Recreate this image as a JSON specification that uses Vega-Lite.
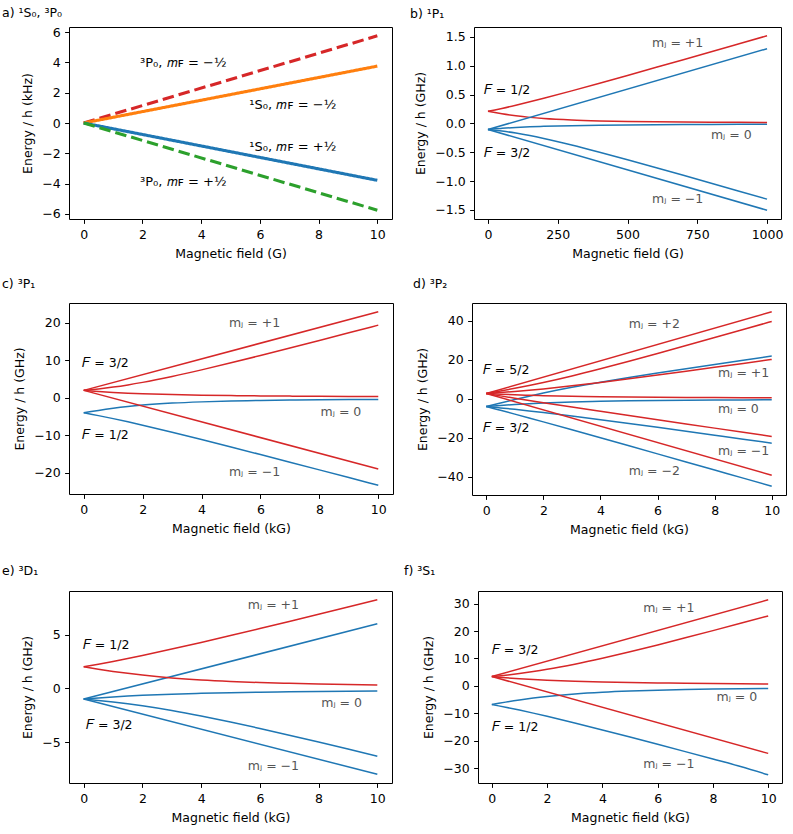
{
"$schema": "https://vega.github.io/schema/vega-lite/v6.json",
"padding": {"left": 1, "top": 6, "right": 0, "bottom": 0},
"background": "white",
"config": {
  "font": "DejaVu Sans",
  "view": {"stroke": "black", "strokeWidth": 1},
  "axis": {"domain": false, "grid": false, "tickColor": "black", "tickSize": 4.4, "tickWidth": 1, "labelColor": "black", "labelFont": "DejaVu Sans", "labelFontSize": 12.5, "labelPadding": 5.4, "titleFont": "DejaVu Sans", "titleFontSize": 12.5, "titleFontWeight": "normal", "titleColor": "black", "titlePadding": 6.5, "labelFlush": false, "labelOverlap": false},
  "axisY": {"titlePadding": 7.5, "labelPadding": 4.4},
  "title": {"font": "DejaVu Sans", "fontSize": 12.5, "fontWeight": "normal", "color": "black", "anchor": "start", "frame": "group"},
  "line": {"strokeWidth": 1.5, "interpolate": "monotone"},
  "text": {"font": "DejaVu Sans", "fontSize": 12.5}
},
"spacing": 27,
"columns": 1,
"align": "none",
"concat": [
 {"spacing": 16, "columns": 1, "align": "none", "concat": [
  {"hconcat": [
   {"width": 323, "height": 192,
    "title": {"text": "a) ¹S₀, ³P₀", "dx": -67, "offset": 7},
    "encoding": {
      "x": {"field": "B", "type": "quantitative", "scale": {"domain": [-0.5, 10.5], "nice": false, "zero": false}, "axis": {"values": [0,2,4,6,8,10], "format": "d", "title": "Magnetic field (G)"}},
      "y": {"field": "E", "type": "quantitative", "scale": {"domain": [-6.33, 6.33], "nice": false, "zero": false}, "axis": {"values": [-6,-4,-2,0,2,4,6], "format": "d", "title": "Energy / h (kHz)"}}
    },
    "layer": [
     {"data": {"values": [
       {"c": "red", "d": "dash", "B": 0, "E": 0}, {"c": "red", "d": "dash", "B": 10, "E": 5.75},
       {"c": "orange", "d": "solid", "B": 0, "E": 0}, {"c": "orange", "d": "solid", "B": 10, "E": 3.75},
       {"c": "blue", "d": "solid", "B": 0, "E": 0}, {"c": "blue", "d": "solid", "B": 10, "E": -3.78},
       {"c": "green", "d": "dash", "B": 0, "E": 0}, {"c": "green", "d": "dash", "B": 10, "E": -5.75}
      ]},
      "mark": {"type": "line", "strokeWidth": 3.1, "interpolate": "linear"},
      "encoding": {
        "color": {"field": "c", "type": "nominal", "scale": {"domain": ["red","orange","blue","green","r","b"], "range": ["#d62728","#ff7f0e","#1f77b4","#2ca02c","#d62728","#1f77b4"]}, "legend": null},
        "strokeDash": {"field": "d", "type": "nominal", "scale": {"domain": ["solid","dash"], "range": [[1,0],[11.5,5]]}, "legend": null}
      }},
     {"data": {"values": [
       {"B": 1.92, "E": 3.94, "t": "³P₀, 𝑚ꜰ = −½"},
       {"B": 5.64, "E": 1.17, "t": "¹S₀, 𝑚ꜰ = −½"},
       {"B": 5.64, "E": -1.57, "t": "¹S₀, 𝑚ꜰ = +½"},
       {"B": 1.92, "E": -3.87, "t": "³P₀, 𝑚ꜰ = +½"}
      ]},
      "mark": {"type": "text", "align": "left", "baseline": "middle", "color": "black", "fontSize": 13},
      "encoding": {"text": {"field": "t"}}}
    ]},
   {"width": 307, "height": 192,
    "title": {"text": "b) ¹P₁", "dx": -64, "offset": 7},
    "encoding": {
      "x": {"field": "B", "type": "quantitative", "scale": {"domain": [-50, 1050], "nice": false, "zero": false}, "axis": {"values": [0,250,500,750,1000], "format": "d", "title": "Magnetic field (G)"}},
      "y": {"field": "E", "type": "quantitative", "scale": {"domain": [-1.656, 1.671], "nice": false, "zero": false}, "axis": {"values": [-1.5,-1,-0.5,0,0.5,1,1.5], "format": ".1f", "title": "Energy / h (GHz)"}}
    },
    "layer": [
     {"data": {"values": [
       {"s":1,"c":"r","B":0,"E":0.21},{"s":1,"c":"r","B":25,"E":0.2342},{"s":1,"c":"r","B":50,"E":0.2599},{"s":1,"c":"r","B":100,"E":0.315},{"s":1,"c":"r","B":150,"E":0.374},{"s":1,"c":"r","B":200,"E":0.4356},{"s":1,"c":"r","B":300,"E":0.5641},{"s":1,"c":"r","B":400,"E":0.6967},{"s":1,"c":"r","B":500,"E":0.8315},{"s":1,"c":"r","B":600,"E":0.9678},{"s":1,"c":"r","B":700,"E":1.105},{"s":1,"c":"r","B":800,"E":1.2427},{"s":1,"c":"r","B":900,"E":1.381},{"s":1,"c":"r","B":1000,"E":1.5195},
       {"s":2,"c":"b","B":0,"E":-0.105},{"s":2,"c":"b","B":25,"E":-0.0942},{"s":2,"c":"b","B":50,"E":-0.0849},{"s":2,"c":"b","B":100,"E":-0.07},{"s":2,"c":"b","B":150,"E":-0.059},{"s":2,"c":"b","B":200,"E":-0.0506},{"s":2,"c":"b","B":300,"E":-0.0391},{"s":2,"c":"b","B":400,"E":-0.0317},{"s":2,"c":"b","B":500,"E":-0.0265},{"s":2,"c":"b","B":600,"E":-0.0228},{"s":2,"c":"b","B":700,"E":-0.02},{"s":2,"c":"b","B":800,"E":-0.0177},{"s":2,"c":"b","B":900,"E":-0.016},{"s":2,"c":"b","B":1000,"E":-0.0145},
       {"s":3,"c":"r","B":0,"E":0.21},{"s":3,"c":"r","B":25,"E":0.1876},{"s":3,"c":"r","B":50,"E":0.167},{"s":3,"c":"r","B":100,"E":0.132},{"s":3,"c":"r","B":150,"E":0.105},{"s":3,"c":"r","B":200,"E":0.0849},{"s":3,"c":"r","B":300,"E":0.059},{"s":3,"c":"r","B":400,"E":0.0442},{"s":3,"c":"r","B":500,"E":0.035},{"s":3,"c":"r","B":600,"E":0.0289},{"s":3,"c":"r","B":700,"E":0.0245},{"s":3,"c":"r","B":800,"E":0.0213},{"s":3,"c":"r","B":900,"E":0.0188},{"s":3,"c":"r","B":1000,"E":0.0168},
       {"s":4,"c":"b","B":0,"E":-0.105},{"s":4,"c":"b","B":25,"E":-0.1176},{"s":4,"c":"b","B":50,"E":-0.132},{"s":4,"c":"b","B":100,"E":-0.167},{"s":4,"c":"b","B":150,"E":-0.21},{"s":4,"c":"b","B":200,"E":-0.2599},{"s":4,"c":"b","B":300,"E":-0.374},{"s":4,"c":"b","B":400,"E":-0.4992},{"s":4,"c":"b","B":500,"E":-0.63},{"s":4,"c":"b","B":600,"E":-0.7639},{"s":4,"c":"b","B":700,"E":-0.8995},{"s":4,"c":"b","B":800,"E":-1.0363},{"s":4,"c":"b","B":900,"E":-1.1738},{"s":4,"c":"b","B":1000,"E":-1.3118},
       {"s":5,"c":"b","B":0,"E":-0.105},{"s":5,"c":"b","B":1000,"E":1.295},
       {"s":6,"c":"b","B":0,"E":-0.105},{"s":6,"c":"b","B":1000,"E":-1.505}
      ]},
      "mark": {"type": "line"},
      "encoding": {
        "color": {"field": "c", "type": "nominal", "scale": {"domain": ["red","orange","blue","green","r","b"], "range": ["#d62728","#ff7f0e","#1f77b4","#2ca02c","#d62728","#1f77b4"]}, "legend": null},
        "detail": {"field": "s", "type": "nominal"}
      }},
     {"data": {"values": [
       {"B": 588, "E": 1.40, "t": "mⱼ = +1"},
       {"B": 799, "E": -0.20, "t": "mⱼ = 0"},
       {"B": 588, "E": -1.31, "t": "mⱼ = −1"}
      ]},
      "mark": {"type": "text", "align": "left", "baseline": "middle", "color": "#555555"},
      "encoding": {"text": {"field": "t"}}},
     {"data": {"values": [
       {"B": -15, "E": 0.58, "t": "𝐹 = 1/2"},
       {"B": -15, "E": -0.51, "t": "𝐹 = 3/2"}
      ]},
      "mark": {"type": "text", "align": "left", "baseline": "middle", "color": "black"},
      "encoding": {"text": {"field": "t"}}}
    ]}
  ], "spacing": 82, "bounds": "flush"},
  {"hconcat": [
   {"width": 324, "height": 191,
    "title": {"text": "c) ³P₁", "dx": -67, "offset": 13},
    "encoding": {
      "x": {"field": "B", "type": "quantitative", "scale": {"domain": [-0.5, 10.5], "nice": false, "zero": false}, "axis": {"values": [0,2,4,6,8,10], "format": "d", "title": "Magnetic field (kG)"}},
      "y": {"field": "E", "type": "quantitative", "scale": {"domain": [-25.66, 25.32], "nice": false, "zero": false}, "axis": {"values": [-20,-10,0,10,20], "format": "d", "title": "Energy / h (GHz)"}}
    },
    "layer": [
     {"data": {"values": [
       {"s":1,"c":"r","B":0,"E":2},{"s":1,"c":"r","B":10,"E":23},
       {"s":2,"c":"r","B":0,"E":2},{"s":2,"c":"r","B":0.25,"E":2.1855},{"s":2,"c":"r","B":0.5,"E":2.393},{"s":2,"c":"r","B":1,"E":2.8789},{"s":2,"c":"r","B":1.5,"E":3.4613},{"s":2,"c":"r","B":2,"E":4.1348},{"s":2,"c":"r","B":3,"E":5.7028},{"s":2,"c":"r","B":4,"E":7.4708},{"s":2,"c":"r","B":5,"E":9.3552},{"s":2,"c":"r","B":6,"E":11.3075},{"s":2,"c":"r","B":7,"E":13.3014},{"s":2,"c":"r","B":8,"E":15.3221},{"s":2,"c":"r","B":9,"E":17.3608},{"s":2,"c":"r","B":10,"E":19.412},
       {"s":3,"c":"b","B":0,"E":-4},{"s":3,"c":"b","B":0.25,"E":-3.6605},{"s":3,"c":"b","B":0.5,"E":-3.343},{"s":3,"c":"b","B":1,"E":-2.7789},{"s":3,"c":"b","B":1.5,"E":-2.3113},{"s":3,"c":"b","B":2,"E":-1.9348},{"s":3,"c":"b","B":3,"E":-1.4028},{"s":3,"c":"b","B":4,"E":-1.0708},{"s":3,"c":"b","B":5,"E":-0.8552},{"s":3,"c":"b","B":6,"E":-0.7075},{"s":3,"c":"b","B":7,"E":-0.6014},{"s":3,"c":"b","B":8,"E":-0.5221},{"s":3,"c":"b","B":9,"E":-0.4608},{"s":3,"c":"b","B":10,"E":-0.412},
       {"s":4,"c":"r","B":0,"E":2},{"s":4,"c":"r","B":0.25,"E":1.8349},{"s":4,"c":"r","B":0.5,"E":1.6884},{"s":4,"c":"r","B":1,"E":1.4432},{"s":4,"c":"r","B":1.5,"E":1.25},{"s":4,"c":"r","B":2,"E":1.0964},{"s":4,"c":"r","B":3,"E":0.8722},{"s":4,"c":"r","B":4,"E":0.7195},{"s":4,"c":"r","B":5,"E":0.6102},{"s":4,"c":"r","B":6,"E":0.5288},{"s":4,"c":"r","B":7,"E":0.4661},{"s":4,"c":"r","B":8,"E":0.4163},{"s":4,"c":"r","B":9,"E":0.376},{"s":4,"c":"r","B":10,"E":0.343},
       {"s":5,"c":"b","B":0,"E":-4},{"s":5,"c":"b","B":0.25,"E":-4.3599},{"s":5,"c":"b","B":0.5,"E":-4.7384},{"s":5,"c":"b","B":1,"E":-5.5432},{"s":5,"c":"b","B":1.5,"E":-6.4},{"s":5,"c":"b","B":2,"E":-7.2964},{"s":5,"c":"b","B":3,"E":-9.1722},{"s":5,"c":"b","B":4,"E":-11.1195},{"s":5,"c":"b","B":5,"E":-13.1102},{"s":5,"c":"b","B":6,"E":-15.1288},{"s":5,"c":"b","B":7,"E":-17.1661},{"s":5,"c":"b","B":8,"E":-19.2163},{"s":5,"c":"b","B":9,"E":-21.276},{"s":5,"c":"b","B":10,"E":-23.343},
       {"s":6,"c":"r","B":0,"E":2},{"s":6,"c":"r","B":10,"E":-19}
      ]},
      "mark": {"type": "line"},
      "encoding": {
        "color": {"field": "c", "type": "nominal", "scale": {"domain": ["red","orange","blue","green","r","b"], "range": ["#d62728","#ff7f0e","#1f77b4","#2ca02c","#d62728","#1f77b4"]}, "legend": null},
        "detail": {"field": "s", "type": "nominal"}
      }},
     {"data": {"values": [
       {"B": 4.93, "E": 20, "t": "mⱼ = +1"},
       {"B": 8.04, "E": -3.87, "t": "mⱼ = 0"},
       {"B": 4.93, "E": -19.8, "t": "mⱼ = −1"}
      ]},
      "mark": {"type": "text", "align": "left", "baseline": "middle", "color": "#555555"},
      "encoding": {"text": {"field": "t"}}},
     {"data": {"values": [
       {"B": -0.05, "E": 9.2, "t": "𝐹 = 3/2"},
       {"B": -0.05, "E": -9.8, "t": "𝐹 = 1/2"}
      ]},
      "mark": {"type": "text", "align": "left", "baseline": "middle", "color": "black"},
      "encoding": {"text": {"field": "t"}}}
    ]},
   {"width": 314, "height": 192,
    "title": {"text": "d) ³P₂", "dx": -59, "offset": 13},
    "encoding": {
      "x": {"field": "B", "type": "quantitative", "scale": {"domain": [-0.5, 10.5], "nice": false, "zero": false}, "axis": {"values": [0,2,4,6,8,10], "format": "d", "title": "Magnetic field (kG)"}},
      "y": {"field": "E", "type": "quantitative", "scale": {"domain": [-49.47, 49.18], "nice": false, "zero": false}, "axis": {"values": [-40,-20,0,20,40], "format": "d", "title": "Energy / h (GHz)"}}
    },
    "layer": [
     {"data": {"values": [
       {"s":1,"c":"r","B":0,"E":2.7},{"s":1,"c":"r","B":10,"E":44.7},
       {"s":2,"c":"r","B":0,"E":2.7},{"s":2,"c":"r","B":0.25,"E":3.3368},{"s":2,"c":"r","B":0.5,"E":3.9887},{"s":2,"c":"r","B":1,"E":5.3457},{"s":2,"c":"r","B":1.5,"E":6.7872},{"s":2,"c":"r","B":2,"E":8.3261},{"s":2,"c":"r","B":3,"E":11.7},{"s":2,"c":"r","B":4,"E":15.3921},{"s":2,"c":"r","B":5,"E":19.281},{"s":2,"c":"r","B":6,"E":23.2812},{"s":2,"c":"r","B":7,"E":27.3454},{"s":2,"c":"r","B":8,"E":31.4482},{"s":2,"c":"r","B":9,"E":35.5757},{"s":2,"c":"r","B":10,"E":39.72},
       {"s":3,"c":"b","B":0,"E":-4.05},{"s":3,"c":"b","B":0.25,"E":-3.1118},{"s":3,"c":"b","B":0.5,"E":-2.1887},{"s":3,"c":"b","B":1,"E":-0.3957},{"s":3,"c":"b","B":1.5,"E":1.3128},{"s":3,"c":"b","B":2,"E":2.9239},{"s":3,"c":"b","B":3,"E":5.85},{"s":3,"c":"b","B":4,"E":8.4579},{"s":3,"c":"b","B":5,"E":10.869},{"s":3,"c":"b","B":6,"E":13.1688},{"s":3,"c":"b","B":7,"E":15.4046},{"s":3,"c":"b","B":8,"E":17.6018},{"s":3,"c":"b","B":9,"E":19.7743},{"s":3,"c":"b","B":10,"E":21.93},
       {"s":4,"c":"r","B":0,"E":2.7},{"s":4,"c":"r","B":0.25,"E":2.92},{"s":4,"c":"r","B":0.5,"E":3.1602},{"s":4,"c":"r","B":1,"E":3.703},{"s":4,"c":"r","B":1.5,"E":4.3271},{"s":4,"c":"r","B":2,"E":5.0258},{"s":4,"c":"r","B":3,"E":6.6054},{"s":4,"c":"r","B":4,"E":8.3583},{"s":4,"c":"r","B":5,"E":10.22},{"s":4,"c":"r","B":6,"E":12.15},{"s":4,"c":"r","B":7,"E":14.1242},{"s":4,"c":"r","B":8,"E":16.128},{"s":4,"c":"r","B":9,"E":18.1524},{"s":4,"c":"r","B":10,"E":20.19},
       {"s":5,"c":"b","B":0,"E":-4.05},{"s":5,"c":"b","B":0.25,"E":-3.745},{"s":5,"c":"b","B":0.5,"E":-3.4602},{"s":5,"c":"b","B":1,"E":-2.953},{"s":5,"c":"b","B":1.5,"E":-2.5271},{"s":5,"c":"b","B":2,"E":-2.1758},{"s":5,"c":"b","B":3,"E":-1.6554},{"s":5,"c":"b","B":4,"E":-1.3083},{"s":5,"c":"b","B":5,"E":-1.07},{"s":5,"c":"b","B":6,"E":-0.9},{"s":5,"c":"b","B":7,"E":-0.7742},{"s":5,"c":"b","B":8,"E":-0.678},{"s":5,"c":"b","B":9,"E":-0.6024},{"s":5,"c":"b","B":10,"E":-0.542},
       {"s":6,"c":"r","B":0,"E":2.7},{"s":6,"c":"r","B":0.25,"E":2.4996},{"s":6,"c":"r","B":0.5,"E":2.3178},{"s":6,"c":"r","B":1,"E":2.0047},{"s":6,"c":"r","B":1.5,"E":1.7497},{"s":6,"c":"r","B":2,"E":1.5419},{"s":6,"c":"r","B":3,"E":1.2312},{"s":6,"c":"r","B":4,"E":1.0157},{"s":6,"c":"r","B":5,"E":0.8603},{"s":6,"c":"r","B":6,"E":0.7442},{"s":6,"c":"r","B":7,"E":0.6546},{"s":6,"c":"r","B":8,"E":0.5837},{"s":6,"c":"r","B":9,"E":0.5263},{"s":6,"c":"r","B":10,"E":0.479},
       {"s":7,"c":"b","B":0,"E":-4.05},{"s":7,"c":"b","B":0.25,"E":-4.3746},{"s":7,"c":"b","B":0.5,"E":-4.7178},{"s":7,"c":"b","B":1,"E":-5.4547},{"s":7,"c":"b","B":1.5,"E":-6.2497},{"s":7,"c":"b","B":2,"E":-7.0919},{"s":7,"c":"b","B":3,"E":-8.8812},{"s":7,"c":"b","B":4,"E":-10.7657},{"s":7,"c":"b","B":5,"E":-12.7103},{"s":7,"c":"b","B":6,"E":-14.6942},{"s":7,"c":"b","B":7,"E":-16.7046},{"s":7,"c":"b","B":8,"E":-18.7337},{"s":7,"c":"b","B":9,"E":-20.7763},{"s":7,"c":"b","B":10,"E":-22.83},
       {"s":8,"c":"r","B":0,"E":2.7},{"s":8,"c":"r","B":0.25,"E":2.0762},{"s":8,"c":"r","B":0.5,"E":1.4638},{"s":8,"c":"r","B":1,"E":0.2671},{"s":8,"c":"r","B":1.5,"E":-0.9},{"s":8,"c":"r","B":2,"E":-2.0449},{"s":8,"c":"r","B":3,"E":-4.288},{"s":8,"c":"r","B":4,"E":-6.4897},{"s":8,"c":"r","B":5,"E":-8.6651},{"s":8,"c":"r","B":6,"E":-10.8231},{"s":8,"c":"r","B":7,"E":-12.9689},{"s":8,"c":"r","B":8,"E":-15.106},{"s":8,"c":"r","B":9,"E":-17.2366},{"s":8,"c":"r","B":10,"E":-19.36},
       {"s":9,"c":"b","B":0,"E":-4.05},{"s":9,"c":"b","B":0.25,"E":-5.0012},{"s":9,"c":"b","B":0.5,"E":-5.9638},{"s":9,"c":"b","B":1,"E":-7.9171},{"s":9,"c":"b","B":1.5,"E":-9.9},{"s":9,"c":"b","B":2,"E":-11.9051},{"s":9,"c":"b","B":3,"E":-15.962},{"s":9,"c":"b","B":4,"E":-20.0603},{"s":9,"c":"b","B":5,"E":-24.1849},{"s":9,"c":"b","B":6,"E":-28.3269},{"s":9,"c":"b","B":7,"E":-32.4811},{"s":9,"c":"b","B":8,"E":-36.644},{"s":9,"c":"b","B":9,"E":-40.8134},{"s":9,"c":"b","B":10,"E":-44.99},
       {"s":10,"c":"r","B":0,"E":2.7},{"s":10,"c":"r","B":10,"E":-39.3}
      ]},
      "mark": {"type": "line"},
      "encoding": {
        "color": {"field": "c", "type": "nominal", "scale": {"domain": ["red","orange","blue","green","r","b"], "range": ["#d62728","#ff7f0e","#1f77b4","#2ca02c","#d62728","#1f77b4"]}, "legend": null},
        "detail": {"field": "s", "type": "nominal"}
      }},
     {"data": {"values": [
       {"B": 4.99, "E": 38.3, "t": "mⱼ = +2"},
       {"B": 8.12, "E": 13.4, "t": "mⱼ = +1"},
       {"B": 8.12, "E": -5.4, "t": "mⱼ = 0"},
       {"B": 8.12, "E": -26.8, "t": "mⱼ = −1"},
       {"B": 4.99, "E": -37.1, "t": "mⱼ = −2"}
      ]},
      "mark": {"type": "text", "align": "left", "baseline": "middle", "color": "#555555"},
      "encoding": {"text": {"field": "t"}}},
     {"data": {"values": [
       {"B": -0.12, "E": 14.7, "t": "𝐹 = 5/2"},
       {"B": -0.12, "E": -14.8, "t": "𝐹 = 3/2"}
      ]},
      "mark": {"type": "text", "align": "left", "baseline": "middle", "color": "black"},
      "encoding": {"text": {"field": "t"}}}
    ]}
  ], "spacing": 79, "bounds": "flush"}
 ]},
 {"hconcat": [
   {"width": 323, "height": 192,
    "title": {"text": "e) ³D₁", "dx": -67, "offset": 14},
    "encoding": {
      "x": {"field": "B", "type": "quantitative", "scale": {"domain": [-0.5, 10.5], "nice": false, "zero": false}, "axis": {"values": [0,2,4,6,8,10], "format": "d", "title": "Magnetic field (kG)"}},
      "y": {"field": "E", "type": "quantitative", "scale": {"domain": [-8.81, 9.05], "nice": false, "zero": false}, "axis": {"values": [-5,0,5], "format": "d", "title": "Energy / h (GHz)"}}
    },
    "layer": [
     {"data": {"values": [
       {"s":1,"c":"b","B":0,"E":-1},{"s":1,"c":"b","B":10,"E":6},
       {"s":2,"c":"r","B":0,"E":2},{"s":2,"c":"r","B":0.25,"E":2.1189},{"s":2,"c":"r","B":0.5,"E":2.242},{"s":2,"c":"r","B":1,"E":2.5},{"s":2,"c":"r","B":1.5,"E":2.7716},{"s":2,"c":"r","B":2,"E":3.0547},{"s":2,"c":"r","B":3,"E":3.6482},{"s":2,"c":"r","B":4,"E":4.2685},{"s":2,"c":"r","B":5,"E":4.9075},{"s":2,"c":"r","B":6,"E":5.5597},{"s":2,"c":"r","B":7,"E":6.2215},{"s":2,"c":"r","B":8,"E":6.8903},{"s":2,"c":"r","B":9,"E":7.5644},{"s":2,"c":"r","B":10,"E":8.2426},
       {"s":3,"c":"b","B":0,"E":-1},{"s":3,"c":"b","B":0.25,"E":-0.9439},{"s":3,"c":"b","B":0.5,"E":-0.892},{"s":3,"c":"b","B":1,"E":-0.8},{"s":3,"c":"b","B":1.5,"E":-0.7216},{"s":3,"c":"b","B":2,"E":-0.6547},{"s":3,"c":"b","B":3,"E":-0.5482},{"s":3,"c":"b","B":4,"E":-0.4685},{"s":3,"c":"b","B":5,"E":-0.4075},{"s":3,"c":"b","B":6,"E":-0.3597},{"s":3,"c":"b","B":7,"E":-0.3215},{"s":3,"c":"b","B":8,"E":-0.2903},{"s":3,"c":"b","B":9,"E":-0.2644},{"s":3,"c":"b","B":10,"E":-0.2426},
       {"s":4,"c":"r","B":0,"E":2},{"s":4,"c":"r","B":0.25,"E":1.8857},{"s":4,"c":"r","B":0.5,"E":1.7761},{"s":4,"c":"r","B":1,"E":1.5721},{"s":4,"c":"r","B":1.5,"E":1.3894},{"s":4,"c":"r","B":2,"E":1.2283},{"s":4,"c":"r","B":3,"E":0.9674},{"s":4,"c":"r","B":4,"E":0.7763},{"s":4,"c":"r","B":5,"E":0.6375},{"s":4,"c":"r","B":6,"E":0.5354},{"s":4,"c":"r","B":7,"E":0.4588},{"s":4,"c":"r","B":8,"E":0.4},{"s":4,"c":"r","B":9,"E":0.3537},{"s":4,"c":"r","B":10,"E":0.3166},
       {"s":5,"c":"b","B":0,"E":-1},{"s":5,"c":"b","B":0.25,"E":-1.0607},{"s":5,"c":"b","B":0.5,"E":-1.1261},{"s":5,"c":"b","B":1,"E":-1.2721},{"s":5,"c":"b","B":1.5,"E":-1.4394},{"s":5,"c":"b","B":2,"E":-1.6283},{"s":5,"c":"b","B":3,"E":-2.0674},{"s":5,"c":"b","B":4,"E":-2.5763},{"s":5,"c":"b","B":5,"E":-3.1375},{"s":5,"c":"b","B":6,"E":-3.7354},{"s":5,"c":"b","B":7,"E":-4.3588},{"s":5,"c":"b","B":8,"E":-5.0},{"s":5,"c":"b","B":9,"E":-5.6537},{"s":5,"c":"b","B":10,"E":-6.3166},
       {"s":6,"c":"b","B":0,"E":-1},{"s":6,"c":"b","B":10,"E":-8}
      ]},
      "mark": {"type": "line"},
      "encoding": {
        "color": {"field": "c", "type": "nominal", "scale": {"domain": ["red","orange","blue","green","r","b"], "range": ["#d62728","#ff7f0e","#1f77b4","#2ca02c","#d62728","#1f77b4"]}, "legend": null},
        "detail": {"field": "s", "type": "nominal"}
      }},
     {"data": {"values": [
       {"B": 5.59, "E": 7.71, "t": "mⱼ = +1"},
       {"B": 8.09, "E": -1.39, "t": "mⱼ = 0"},
       {"B": 5.59, "E": -7.25, "t": "mⱼ = −1"}
      ]},
      "mark": {"type": "text", "align": "left", "baseline": "middle", "color": "#555555"},
      "encoding": {"text": {"field": "t"}}},
     {"data": {"values": [
       {"B": -0.03, "E": 4.0, "t": "𝐹 = 1/2"},
       {"B": 0.08, "E": -3.4, "t": "𝐹 = 3/2"}
      ]},
      "mark": {"type": "text", "align": "left", "baseline": "middle", "color": "black"},
      "encoding": {"text": {"field": "t"}}}
    ]},
   {"width": 304, "height": 192,
    "title": {"text": "f) ³S₁", "dx": -74, "offset": 14},
    "encoding": {
      "x": {"field": "B", "type": "quantitative", "scale": {"domain": [-0.5, 10.5], "nice": false, "zero": false}, "axis": {"values": [0,2,4,6,8,10], "format": "d", "title": "Magnetic field (kG)"}},
      "y": {"field": "E", "type": "quantitative", "scale": {"domain": [-35.4, 34.6], "nice": false, "zero": false}, "axis": {"values": [-30,-20,-10,0,10,20,30], "format": "d", "title": "Energy / h (GHz)"}}
    },
    "layer": [
     {"data": {"values": [
       {"s":1,"c":"r","B":0,"E":3.4},{"s":1,"c":"r","B":10,"E":31.4},
       {"s":2,"c":"r","B":0,"E":3.4},{"s":2,"c":"r","B":0.25,"E":3.6443},{"s":2,"c":"r","B":0.5,"E":3.9112},{"s":2,"c":"r","B":1,"E":4.5177},{"s":2,"c":"r","B":1.5,"E":5.2249},{"s":2,"c":"r","B":2,"E":6.0325},{"s":2,"c":"r","B":3,"E":7.9194},{"s":2,"c":"r","B":4,"E":10.0911},{"s":2,"c":"r","B":5,"E":12.4561},{"s":2,"c":"r","B":6,"E":14.9468},{"s":2,"c":"r","B":7,"E":17.5197},{"s":2,"c":"r","B":8,"E":20.1475},{"s":2,"c":"r","B":9,"E":22.8134},{"s":2,"c":"r","B":10,"E":25.5065},
       {"s":3,"c":"b","B":0,"E":-6.8},{"s":3,"c":"b","B":0.25,"E":-6.3443},{"s":3,"c":"b","B":0.5,"E":-5.9112},{"s":3,"c":"b","B":1,"E":-5.1177},{"s":3,"c":"b","B":1.5,"E":-4.4249},{"s":3,"c":"b","B":2,"E":-3.8325},{"s":3,"c":"b","B":3,"E":-2.9194},{"s":3,"c":"b","B":4,"E":-2.2911},{"s":3,"c":"b","B":5,"E":-1.8561},{"s":3,"c":"b","B":6,"E":-1.5468},{"s":3,"c":"b","B":7,"E":-1.3197},{"s":3,"c":"b","B":8,"E":-1.1475},{"s":3,"c":"b","B":9,"E":-1.0134},{"s":3,"c":"b","B":10,"E":-0.9065},
       {"s":4,"c":"r","B":0,"E":3.4},{"s":4,"c":"r","B":0.25,"E":3.1771},{"s":4,"c":"r","B":0.5,"E":2.9741},{"s":4,"c":"r","B":1,"E":2.621},{"s":4,"c":"r","B":1.5,"E":2.3286},{"s":4,"c":"r","B":2,"E":2.0856},{"s":4,"c":"r","B":3,"E":1.7112},{"s":4,"c":"r","B":4,"E":1.4413},{"s":4,"c":"r","B":5,"E":1.2403},{"s":4,"c":"r","B":6,"E":1.0862},{"s":4,"c":"r","B":7,"E":0.9648},{"s":4,"c":"r","B":8,"E":0.867},{"s":4,"c":"r","B":9,"E":0.7868},{"s":4,"c":"r","B":10,"E":0.7198},
       {"s":5,"c":"b","B":0,"E":-6.8},{"s":5,"c":"b","B":0.25,"E":-7.2771},{"s":5,"c":"b","B":0.5,"E":-7.7741},{"s":5,"c":"b","B":1,"E":-8.821},{"s":5,"c":"b","B":1.5,"E":-9.9286},{"s":5,"c":"b","B":2,"E":-11.0856},{"s":5,"c":"b","B":3,"E":-13.5112},{"s":5,"c":"b","B":4,"E":-16.0413},{"s":5,"c":"b","B":5,"E":-18.6403},{"s":5,"c":"b","B":6,"E":-21.2862},{"s":5,"c":"b","B":7,"E":-23.9648},{"s":5,"c":"b","B":8,"E":-26.667},{"s":5,"c":"b","B":9,"E":-29.3868},{"s":5,"c":"b","B":10,"E":-32.4198},
       {"s":6,"c":"r","B":0,"E":3.4},{"s":6,"c":"r","B":10,"E":-24.6}
      ]},
      "mark": {"type": "line"},
      "encoding": {
        "color": {"field": "c", "type": "nominal", "scale": {"domain": ["red","orange","blue","green","r","b"], "range": ["#d62728","#ff7f0e","#1f77b4","#2ca02c","#d62728","#1f77b4"]}, "legend": null},
        "detail": {"field": "s", "type": "nominal"}
      }},
     {"data": {"values": [
       {"B": 5.48, "E": 28.5, "t": "mⱼ = +1"},
       {"B": 8.13, "E": -4.2, "t": "mⱼ = 0"},
       {"B": 5.48, "E": -28.3, "t": "mⱼ = −1"}
      ]},
      "mark": {"type": "text", "align": "left", "baseline": "middle", "color": "#555555"},
      "encoding": {"text": {"field": "t"}}},
     {"data": {"values": [
       {"B": 0, "E": 13.1, "t": "𝐹 = 3/2"},
       {"B": 0, "E": -14.9, "t": "𝐹 = 1/2"}
      ]},
      "mark": {"type": "text", "align": "left", "baseline": "middle", "color": "black"},
      "encoding": {"text": {"field": "t"}}}
    ]}
 ], "spacing": 86, "bounds": "flush"}
]
}
